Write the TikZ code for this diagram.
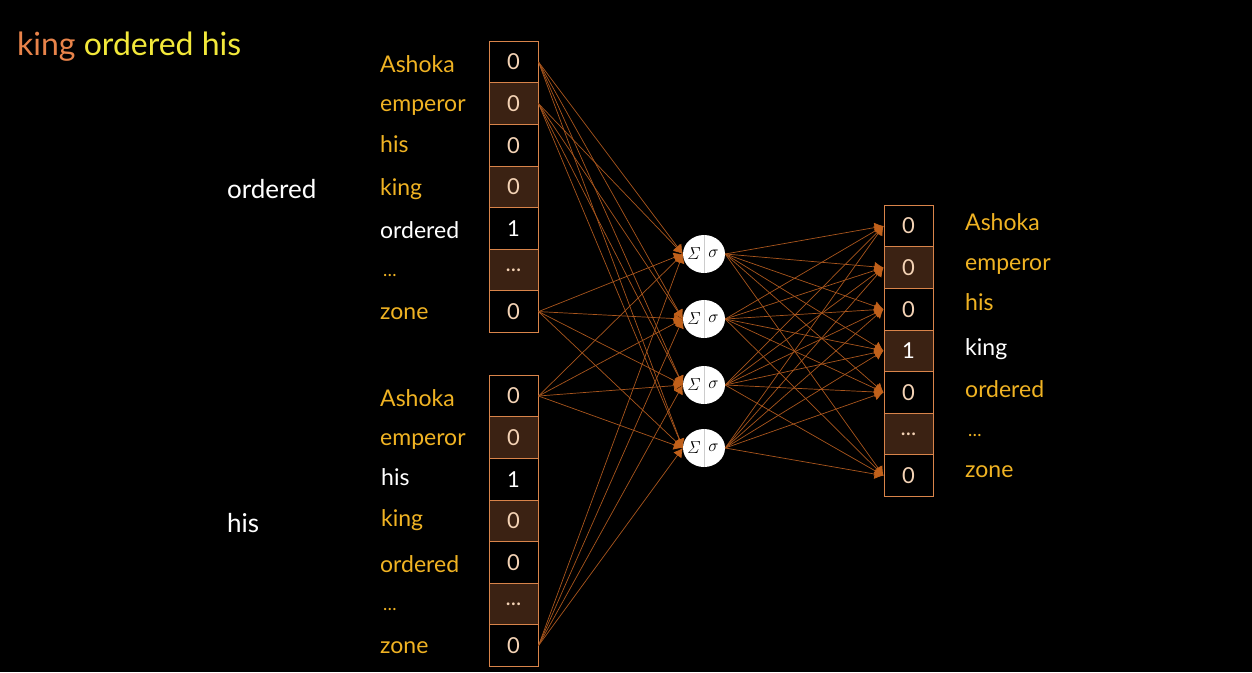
\documentclass[tikz,border=0pt]{standalone}
\usepackage[no-math]{fontspec}
\setmainfont{Lato}
\usetikzlibrary{arrows.meta,shapes.geometric}
\definecolor{cborder}{HTML}{D9844A}
\definecolor{cbrown}{HTML}{3B2213}
\definecolor{cpeach}{HTML}{F4D3B5}
\definecolor{cgold}{HTML}{F0B323}
\definecolor{cking}{HTML}{E8834A}
\definecolor{cyell}{HTML}{F2E83A}
\definecolor{cline}{HTML}{A9561D}
\definecolor{ctip}{HTML}{C0601A}
\tikzset{
  cellbox/.style={draw=cborder,line width=1pt,minimum width=49pt,minimum height=41.6pt,inner sep=0pt,font=\fontsize{22}{24}\selectfont,text=cpeach},
  bk/.style={cellbox,fill=black},
  br/.style={cellbox,fill=cbrown},
  hot/.style={text=white},
  lbl/.style={anchor=base west,inner sep=0pt,font=\fontsize{23}{25}\selectfont,text=cgold},
  hlbl/.style={lbl,text=white},
  dots/.style={lbl,font=\fontsize{18}{20}\selectfont},
  side/.style={anchor=base west,inner sep=0pt,font=\fontsize{26}{28}\selectfont,text=white},
  neuron/.style={ellipse,fill=white,minimum width=42pt,minimum height=38pt,inner sep=0pt},
  sym/.style={inner sep=0pt,font=\fontsize{16}{18}\selectfont},
  wire/.style={draw=cline,line width=0.7pt,-{Latex[length=9pt,width=10pt,fill=ctip,color=ctip]}},
}
\begin{document}
\begin{tikzpicture}[x=1pt,y=-1pt]
\fill[black] (0,0) rectangle (1252,672);
\useasboundingbox (0,0) rectangle (1252,672);
% title
\node[anchor=base west,inner sep=0pt,font=\fontsize{32}{34}\selectfont] (title) at (17,55) {\textcolor{cking}{king} \textcolor{cyell}{ordered his}};
\node[side] (lord) at (227,198) {ordered};
\node[side] (lhis) at (227,532) {his};
% input box 1
\node[bk] (a1) at (513.5,62) {0};
\node[br] (a2) at (513.5,103.6) {0};
\node[bk] (a3) at (513.5,145.2) {0};
\node[br] (a4) at (513.5,186.8) {0};
\node[bk,hot] (a5) at (513.5,228.4) {1};
\node[br] (a6) at (513.5,270) {...};
\node[bk] (a7) at (513.5,311.6) {0};
\node[lbl] (la1) at (380,72) {Ashoka};
\node[lbl] (la2) at (380,111) {emperor};
\node[lbl] (la3) at (380,152) {his};
\node[lbl] (la4) at (380,195) {king};
\node[hlbl] (la5) at (380,238) {ordered};
\node[dots] (la6) at (383,276) {…};
\node[lbl] (la7) at (380,319) {zone};
% input box 2
\node[bk] (b1) at (513.5,396) {0};
\node[br] (b2) at (513.5,437.6) {0};
\node[bk,hot] (b3) at (513.5,479.2) {1};
\node[br] (b4) at (513.5,520.8) {0};
\node[bk] (b5) at (513.5,562.4) {0};
\node[br] (b6) at (513.5,604) {...};
\node[bk] (b7) at (513.5,645.6) {0};
\node[lbl] (lb1) at (380,406) {Ashoka};
\node[lbl] (lb2) at (380,445) {emperor};
\node[hlbl] (lb3) at (381,485) {his};
\node[lbl] (lb4) at (381,526) {king};
\node[lbl] (lb5) at (380,572) {ordered};
\node[dots] (lb6) at (383,610) {…};
\node[lbl] (lb7) at (380,653) {zone};
% output box
\node[bk] (o1) at (908.5,226) {0};
\node[br] (o2) at (908.5,267.6) {0};
\node[bk] (o3) at (908.5,309.2) {0};
\node[br,hot] (o4) at (908.5,350.8) {1};
\node[bk] (o5) at (908.5,392.4) {0};
\node[br] (o6) at (908.5,434) {...};
\node[bk] (o7) at (908.5,475.6) {0};
\node[lbl] (lo1) at (965,230) {Ashoka};
\node[lbl] (lo2) at (965,270) {emperor};
\node[lbl] (lo3) at (965,310) {his};
\node[hlbl] (lo4) at (965,355) {king};
\node[lbl] (lo5) at (965,397) {ordered};
\node[dots] (lo6) at (968,436) {…};
\node[lbl] (lo7) at (965,477) {zone};
% neurons
\foreach \i/\y in {1/254,2/319,3/385,4/448}{
  \node[neuron] (n\i) at (704,\y) {};
  \draw[gray!40,line width=0.8pt] (n\i.north) -- (n\i.south);
  \node[sym] (s\i) at (694,\y) {$\mathit{\Sigma}$};
  \node[sym] (g\i) at (713.5,\y) {$\sigma$};
}
% wires in
\foreach \s in {a1,a2,a7,b1,b7}{
  \foreach \i in {1,...,4}{
    \draw[wire] (\s.east) -- (n\i.west);
  }
}
% wires out
\foreach \i in {1,...,4}{
  \foreach \t in {o1,o2,o3,o4,o5,o7}{
    \draw[wire] (n\i.east) -- (\t.west);
  }
}
\end{tikzpicture}
\end{document}
